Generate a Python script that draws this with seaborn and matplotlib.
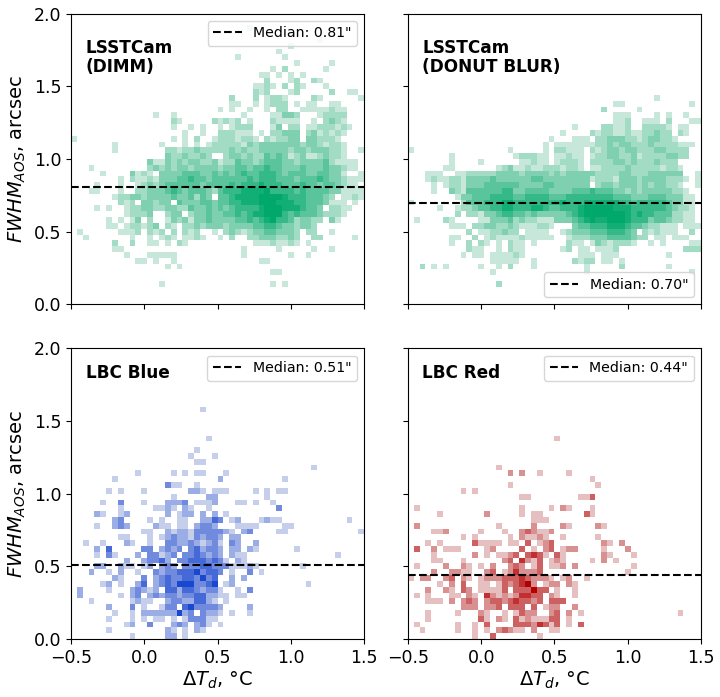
import matplotlib
matplotlib.use("Agg")
import matplotlib.pyplot as plt
import numpy as np
import pandas as pd
import seaborn as sns

# Occupied cells per row of a 50x50 grid: row index -> "first_column:counts" runs, '.' = empty
DIMM_ROWS = {
    47: "30:1", 45: "42:1", 44: "37:1", 43: "35:1", 42: "28:1 36:1", 41: "38:1 44:1",
    40: "34:1 36:2 43:1", 39: "32:11 35:1 37:1 39:1", 38: "33:2 37:12 41:21",
    37: "31:1121 36:2 38:21 43:1", 36: "31:212 37:12 44:2 47:11",
    35: "27:2 31:2 33:1221 41:21 49:1", 34: "27:11 31:1 33:1222 38:1 40:11 44:11",
    33: "25:1 27:1 30:1 33:1 35:22 39:11111211", 32: "14:1 17:1 29:1 34:11332 42:12222",
    31: "17:21 24:21212 30:1 34:21111 41:1 43:2321",
    30: "17:1 20:1 22:1 25:1 27:1222 34:13 37:22 40:11222121",
    29: "19:1 22:1 25:222111 32:1 34:22333 40:2312121",
    28: "0:1 17:1 19:1 21:2 24:12221221 33:212233 40:332221",
    27: "7:1 15:1 19:1 21:1 23:1 24:22222132333333323321221",
    26: "7:1 16:2212232222232322333332332333221 49:1",
    25: "16:32232232..233232243431231123221",
    24: "13:311 16:323233223122433234443323333421111",
    23: "3:1 13:232 16:3233233332334434454433343334332 47:11",
    22: "5:1 10:3121.3 16:3334443343434544555434443344331 49:1",
    21: "8:1 10:2 11:11213 16:3344544344444454555444344454332111",
    20: "4:1 8:1 11:12323 16:444444344445455565554445443443211",
    19: "3:11 8:1 11:22333 16:4543444324555666675555454444331111",
    18: "7:1223 11:32333 16:34334243.44566667877655544432.1121",
    17: "8:212 12:3323 16:3.43334434455666787666554443111.1",
    16: "4:1 6:1 9:12 11:23322 16:332243343434555568876665443.2211",
    15: "9:12 11:223 16:233.233433445456678754544432221",
    14: "6:1 8:1 10:13 13:2 16:132313343333445456755423322.31",
    13: "6:11 9:12 11:2123 16:21.22323332333344554332332",
    12: "1:1 8:111 11:2.212 16:.2.212..1.2321233443332.22..1",
    11: "2:1 10:1 13:1 15:1 16:21.1121..1.2..223332232..22.....1",
    10: "7:2 10:2 13:11 16:1.21 31:11121121.1",
    9: "7:11 29:1 35:1 41:1 44:1", 8: "9:1 13:11111 29:1 37:1 40:1",
    7: "11:11 14:1 17:1 32:11", 6: "16:1 18:1", 5: "34:11", 3: "15:1 34:1 36:1",
}
DONUT_ROWS = {
    35: "42:1", 34: "35:11 48:1", 33: "33:2 39:1", 32: "35:111 42:1 44:1 47:1",
    31: "35:112 40:111 44:2 48:11", 30: "28:1 33:22112 40:22221 46:11",
    29: "26:1 31:21221121122322.21", 28: "24:1 28:111 32:22333221233221",
    27: "23:1 25:1111111 32:22323322232222111",
    26: "0:1 17:1 23:1 25:22111 31:21233233222332222",
    25: "7:1 18:122211 25:11211 31:12233223122223322",
    24: "7:1 12:1 19:11211 25:12221 31:222233232223222",
    23: "6:11 15:123112112221221 31:1122223222221221",
    22: "3:111 8:11 10:2222233332333323233333222233222333333 49:1",
    21: "3:1211221 10:33334333333443333333312221333233332221 49:1",
    20: "4:1 6:1221 10:333444444333344333333.233233323233221 49:1",
    19: "4:1 7:321 10:44444455334444333344454443323233333221",
    18: "8:13 10:344455554455554445555555544433344433311",
    17: "0:1 9:2 10:444555665555555565556666665545555543311",
    16: "5:1 8:12 10:234455665556654455567777866655555543221",
    15: "8:2 10:221334554434333334567777887656554442211",
    14: "1:1 6:21 12:1133342322111333456766788655534432211",
    13: "7:111 11:22332232111221...344555666544322111.111",
    12: "10:2 12:1122322.1111..1233344455543.212111..2",
    11: "7:11 11:2.121111211111..12223334444322.11.111",
    10: "7:1 10:2.21.1.211.1 27:211.13212221 41:1 43:1 48:11",
    9: "10:211 15:1 17:211 26:12 29:11 32:1112 47:222",
    8: "9:1 11:11 14:111121 29:111 33:111 44:1",
    7: "14:11111 21:1 28:2122 33:11 36:1",
    6: "2:2 4:1 6:1 12:1 15:1 17:2 21:1 30:1 36:2 44:1",
    5: "14:1 30:1 48:1", 3: "15:2",
}
BLUE_ROWS = {
    39: "22:1", 34: "23:1", 32: "21:1", 31: "20:1 24:1", 30: "21:11", 29: "41:1",
    28: "11:1 17:1 19:1 21:11 26:1", 27: "7:1 25:2 36:1", 26: "16:311 21:1",
    25: "6:1 8:1 12:1 20:221 24:111 31:1 33:1 35:11", 24: "17:1 23:22 33:1",
    23: "5:1 8:3 12:1 16:2223 21:1112 28:11 31:1 34:1",
    22: "8:1 14:11 16:21 19:21 23:1 35:3", 21: "4:21 8:12 16:2 18:122 22:2 24:2 26:1",
    20: "7:23 13:1 15:1 18:11 22:2243 27:12 32:1211 47:1",
    19: "4:1 7:232 14:211 18:11 21:2332 28:1111 36:11",
    18: "12:11 16:212213333321 29:23 35:11 49:1",
    17: "8:11 13:1 15:12322132332 27:22",
    16: "2:1 5:1 9:21 13:1 16:3322321231 27:32 31:2",
    15: "4:2 6:4 12:33 15:2323.342332.22 30:21 38:1",
    14: "4:1 6:31 11:2 13:33123.3343232.211 45:1",
    13: "9:2 12:23342.334443431.21", 12: "4:22 8:211 12:12 15:232.3334433311121 39:1",
    11: "3:2 6:1 8:2 11:1 14:323344453443 27:1 30:3 32:1",
    10: "7:21 12:3 14:23433443534 27:2 29:2",
    9: "5:12 8:1 11:24 14:23435553345 26:12 40:1",
    8: "1:2 6:1 10:23212.4424432331 28:1 30:3",
    7: "1:2 8:1 10:23 13:23233233442211 28:11",
    6: "3:1 10:1211 16:233224421 26:1", 5: "6:2 10:3 12:1 15:133.4533332 30:2",
    4: "7:1 10:1 12:222222 18:5 19:23.3221 27:1 30:1",
    3: "6:1 10:1 12:1 14:11 17:1 19:133311", 2: "9:12 13:3 17:232 21:231 25:1",
    1: "6:1 16:21 19:1 21:21", 0: "10:1 16:22 19:1",
}
RED_ROWS = {
    34: "25:1", 29: "15:1", 28: "17:2 19:2 22:1 27:1", 27: "31:1", 26: "17:1 32:1",
    25: "9:1 11:1", 24: "19:11 29:113", 22: "1:1 19:1 24:1 26:21 31:1",
    21: "5:1 13:2 19:1 21:11 30:31", 20: "21:111", 19: "1:2 15:1 21:2 26:21 32:21",
    18: "4:112 12:1 16:1 19:23211 24:2", 17: "9:1 11:1 17:1 19:211 22:21 26:1 32:1",
    16: "3:1 5:1 11:31111 17:11 20:3 22:123 33:21 36:2",
    15: "1:3 4:2 6:111 13:12 19:3 21:1 23:23 26:122 33:1 37:2",
    14: "4:1 11:2 13:1 15:1123 20:3431 25:31 33:21 38:1",
    13: "4:11 9:1 16:23 19:421 22:3 24:121 31:1 33:2 35:1",
    12: "1:1 6:2 9:21 12:1 14:2 17:232 21:13 24:112 28:2 38:1",
    11: "4:2 7:2211 13:23 16:1242223 37:1",
    10: "0:1 2:22 6:23 9:21 12:1222333432221 26:12 30:1",
    9: "5:1 7:2 9:3 12:11 15:1323452 23:122 27:21",
    8: "3:2 6:21 9:32 12:1111 16:3 18:333533 25:1 28:1",
    7: "1:1 3:1 7:11 10:21 13:4212124433 24:21 28:1",
    6: "3:111 7:2 9:232 13:2332343323 24:333",
    5: "9:222 13:223 17:333 21:3 23:122 28:2",
    4: "3:1 8:1 12:21 16:1 18:1322 24:23 27:2 29:1 46:1",
    3: "3:1 12:31 15:21 18:312111 24:33 27:1",
    2: "1:1 8:1 11:1 13:3 18:33324313 27:1 29:3",
    1: "2:1 8:1 11:1 13:1 15:2321 19:1 21:2 24:11", 0: "11:1 14:3 22:1",
}

PANEL_TITLES = ["LSSTCam\n(DIMM)", "LSSTCam\n(DONUT BLUR)", "LBC Blue", "LBC Red"]
PANEL_ROWS = [DIMM_ROWS, DONUT_ROWS, BLUE_ROWS, RED_ROWS]
PANEL_COLORS = ["#00a86b", "#00a86b", "#1a47d0", "#b30000"]
PANEL_TOP_COUNTS = [6.5, 6.5, 5, 5]
MEDIANS = [0.81, 0.70, 0.51, 0.44]
LEGEND_SPOTS = ["upper right", "lower right", "upper right", "upper right"]
TITLE_TOPS = [0.913, 0.913, 0.948, 0.948]

XLIM = (-0.5, 1.5)
YLIM = (0.0, 2.0)
N_BINS = 50


def cells_to_frame(rows):
    """Expand the run-length rows into one record per occupied cell."""
    dx = (XLIM[1] - XLIM[0]) / N_BINS
    dy = (YLIM[1] - YLIM[0]) / N_BINS
    records = []
    for row, runs in rows.items():
        for run in runs.split():
            start, counts = run.split(":")
            for offset, ch in enumerate(counts):
                if ch != ".":
                    col = int(start) + offset
                    records.append((XLIM[0] + (col + 0.5) * dx,
                                    YLIM[0] + (row + 0.5) * dy, int(ch)))
    return pd.DataFrame(records, columns=["dT", "fwhm", "n"])


fig, axes = plt.subplots(2, 2, sharex=True, sharey=True, figsize=(7.2, 6.97), dpi=100)
fig.subplots_adjust(left=71 / 720, right=701 / 720, top=1 - 13.7 / 697,
                    bottom=1 - 639 / 697, wspace=0.149, hspace=0.152)

for ax, title, rows, color, top_count, median, spot, top in zip(
        axes.flat, PANEL_TITLES, PANEL_ROWS, PANEL_COLORS, PANEL_TOP_COUNTS,
        MEDIANS, LEGEND_SPOTS, TITLE_TOPS):
    ramp = sns.light_palette(color, input="rgb", as_cmap=True)
    sns.histplot(data=cells_to_frame(rows), x="dT", y="fwhm", weights="n",
                 bins=N_BINS, binrange=(XLIM, YLIM), cmap=ramp, vmax=top_count, ax=ax)
    ax.axhline(median, color="black", ls="--", lw=1.5, label=f'Median: {median:.2f}"')
    ax.legend(loc=spot, fontsize=10.2)
    ax.text(0.05, top, title, transform=ax.transAxes, va="top", ha="left",
            fontsize=12.2, fontweight="bold", linespacing=1.1)
    ax.set_xlim(*XLIM)
    ax.set_ylim(*YLIM)
    ax.set_xticks([-0.5, 0.0, 0.5, 1.0, 1.5])
    ax.set_yticks([0.0, 0.5, 1.0, 1.5, 2.0])
    ax.tick_params(labelsize=12.5)
    ax.set_xlabel("")
    ax.set_ylabel("")

for ax in axes[1]:
    ax.set_xlabel(r"$\Delta T_d$, °C", fontsize=14, labelpad=2)
for ax in axes[:, 0]:
    ax.set_ylabel(r"$FWHM_{AOS}$, arcsec", fontsize=14, labelpad=4)

fig.savefig("out.png", dpi=100)
